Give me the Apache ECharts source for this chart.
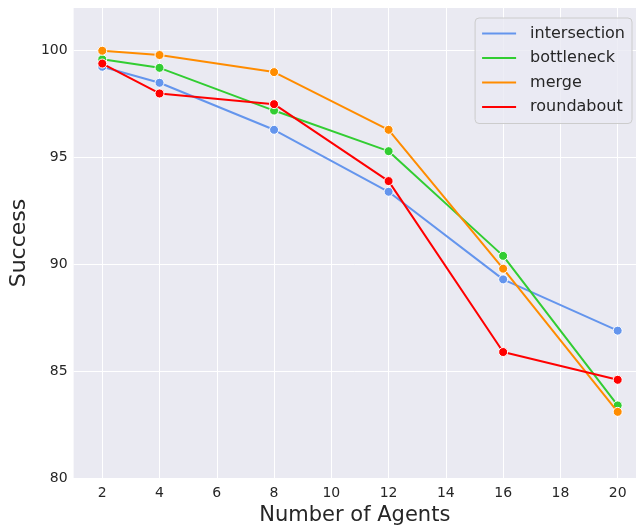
<!DOCTYPE html>
<html>
<head>
<meta charset="utf-8">
<script src="https://cdn.jsdelivr.net/npm/echarts@6/dist/echarts.min.js"></script>
<style>html,body{margin:0;padding:0;background:#fff;}#c{width:636px;height:531px;}</style>
</head>
<body>
<div id="c"></div>
<script>
const agents = [2, 4, 8, 12, 16, 20];
const xTicks = [2, 4, 6, 8, 10, 12, 14, 16, 18, 20];
const intersection = [99.25, 98.5, 96.3, 93.4, 89.3, 86.9];
const bottleneck = [99.6, 99.2, 97.2, 95.3, 90.4, 83.4];
const merge = [100.0, 99.8, 99.0, 96.3, 89.8, 83.1];
const roundabout = [99.4, 98.0, 97.5, 93.9, 85.9, 84.6];

const names = ['intersection', 'bottleneck', 'merge', 'roundabout'];
const colors = ['#6495ED', '#32CD32', '#FF8C00', '#FF0000'];
const values = [intersection, bottleneck, merge, roundabout];
const font = 'DejaVu Sans';

const chart = echarts.init(document.getElementById('c'));
chart.setOption({
  animation: false,
  color: colors,
  textStyle: { fontFamily: font },
  grid: {
    left: 73, top: 8, right: 0, height: 473,
    show: true, backgroundColor: '#EAEAF2', borderWidth: 0
  },
  legend: {
    orient: 'vertical',
    right: 4, top: 18,
    padding: [6, 7, 7, 7],
    backgroundColor: 'rgba(234,234,242,0.8)',
    borderColor: '#CCCCCC', borderWidth: 1, borderRadius: 4,
    icon: 'rect', itemWidth: 34, itemHeight: 2, itemGap: 5.5,
    textStyle: { fontSize: 16, color: '#262626', lineHeight: 19, padding: [0, 0, 0, 9], fontFamily: font },
    data: names.map((n, i) => ({ name: n, itemStyle: { color: colors[i], borderWidth: 0 } }))
  },
  xAxis: {
    type: 'value', min: 1.0, max: 20.64,
    name: 'Number of Agents', nameLocation: 'middle', nameGap: 26,
    nameTextStyle: { fontSize: 21, color: '#262626', fontFamily: font },
    axisLine: { show: false }, axisTick: { show: false, customValues: xTicks },
    axisLabel: { customValues: xTicks, fontSize: 14, color: '#262626', margin: 8, fontFamily: font },
    splitLine: { show: true, lineStyle: { color: '#FFFFFF', width: 1 } }
  },
  yAxis: {
    type: 'value', min: 80, max: 102, interval: 5,
    name: 'Success', nameLocation: 'middle', nameGap: 34,
    nameTextStyle: { fontSize: 22, color: '#262626', fontFamily: font },
    axisLine: { show: false }, axisTick: { show: false },
    axisLabel: {
      fontSize: 14, color: '#262626', margin: 6, fontFamily: font, showMaxLabel: false,
      formatter: v => (v % 5 === 0 ? String(v) : '')
    },
    splitLine: { show: true, showMaxLine: false, lineStyle: { color: '#FFFFFF', width: 1 } }
  },
  series: names.map((n, i) => ({
    name: n, type: 'line',
    data: agents.map((a, j) => [a, values[i][j]]),
    symbol: 'circle', symbolSize: 9,
    color: colors[i],
    lineStyle: { color: colors[i], width: 2 },
    itemStyle: { color: colors[i], borderColor: '#FFFFFF', borderWidth: 1 },
    z: 2 + i
  }))
});
</script>
</body>
</html>
